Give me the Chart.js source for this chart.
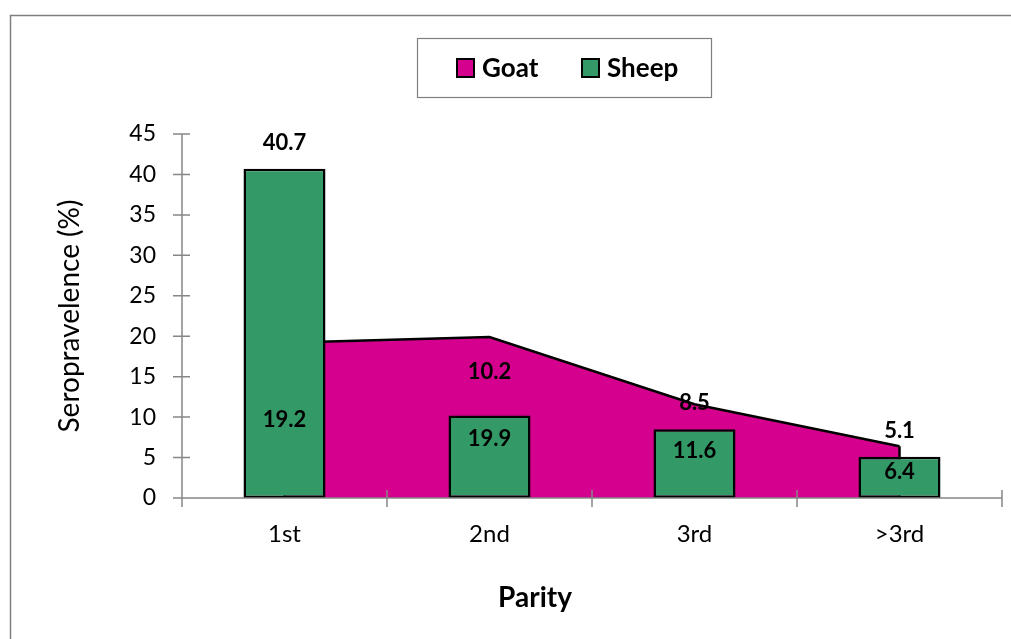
<!DOCTYPE html>
<html>
<head>
<meta charset="utf-8">
<script src="https://cdn.jsdelivr.net/npm/chart.js@4.4.1/dist/chart.umd.min.js"></script>
<style>
  html, body { margin: 0; padding: 0; background: #ffffff; }
  #wrap { width: 1011px; height: 639px; position: relative; }
</style>
</head>
<body>
<div id="wrap"><canvas id="chart" width="1011" height="639"></canvas></div>
<script>
// Seroprevalence by parity
const categories = ['1st', '2nd', '3rd', '>3rd'];
const goatValues = [19.2, 19.9, 11.6, 6.4];
const sheepValues = [40.7, 10.2, 8.5, 5.1];
const yTickValues = [0, 5, 10, 15, 20, 25, 30, 35, 40, 45];
const xAxisTitle = 'Parity';
const yAxisTitle = 'Seropravelence (%)';

const FONT = 'Lato, "Open Sans", "DejaVu Sans", sans-serif';
const GOAT_COLOR = '#D6008F';
const SHEEP_COLOR = '#339966';
const AXIS_COLOR = '#868686';

// Outer frame of the chart object
const framePlugin = {
  id: 'frame',
  beforeDraw(chart) {
    const ctx = chart.ctx;
    ctx.save();
    ctx.fillStyle = '#ffffff';
    ctx.fillRect(0, 0, chart.width, chart.height);
    ctx.strokeStyle = '#7f7f7f';
    ctx.lineWidth = 1.5;
    ctx.beginPath();
    ctx.moveTo(10.5, chart.height);
    ctx.lineTo(10.5, 15.5);
    ctx.lineTo(chart.width, 15.5);
    ctx.stroke();
    ctx.restore();
  }
};

// Close the area outline with vertical edges at its ends (drawn before the bars)
const areaEdgePlugin = {
  id: 'areaEdge',
  afterDatasetDraw(chart, args) {
    if (chart.data.datasets[args.index].type !== 'line') return;
    const pts = args.meta.data;
    const base = chart.scales.y.getPixelForValue(0);
    const ctx = chart.ctx;
    ctx.save();
    ctx.strokeStyle = '#000000';
    ctx.lineWidth = 2.5;
    ctx.beginPath();
    [pts[0], pts[pts.length - 1]].forEach(p => {
      ctx.moveTo(p.x, p.y);
      ctx.lineTo(p.x, base);
    });
    ctx.stroke();
    ctx.restore();
  }
};

// Axis lines with tick marks crossing the axes
const axesPlugin = {
  id: 'crossAxes',
  afterDatasetsDraw(chart) {
    const { ctx, chartArea: a, scales } = chart;
    const x = scales.x, y = scales.y;
    const y0 = y.getPixelForValue(0);
    ctx.save();
    ctx.strokeStyle = AXIS_COLOR;
    ctx.lineWidth = 1.5;
    ctx.beginPath();
    // value axis
    ctx.moveTo(a.left, a.top);
    ctx.lineTo(a.left, y0 + 9);
    y.ticks.forEach(t => {
      const py = y.getPixelForValue(t.value);
      ctx.moveTo(a.left - 9, py);
      ctx.lineTo(a.left + 8, py);
    });
    // category axis
    ctx.moveTo(a.left, y0);
    ctx.lineTo(a.right, y0);
    const n = categories.length;
    for (let i = 0; i <= n; i++) {
      let px;
      if (i === 0) px = a.left;
      else if (i === n) px = a.right;
      else px = (x.getPixelForValue(i - 1) + x.getPixelForValue(i)) / 2;
      ctx.moveTo(px, y0 - 8);
      ctx.lineTo(px, y0 + 9);
    }
    ctx.stroke();
    // category axis title, centred on the chart object
    ctx.fillStyle = '#000000';
    ctx.font = 'bold 28px ' + FONT;
    ctx.textAlign = 'center';
    ctx.textBaseline = 'middle';
    ctx.fillText(xAxisTitle, 535, 598);
    ctx.restore();
  }
};

// Value labels: sheep above the bars, goat at mid-height
const valueLabelPlugin = {
  id: 'valueLabels',
  afterDatasetsDraw(chart, args, opts) {
    const { ctx, scales } = chart;
    ctx.save();
    ctx.font = 'bold 22px ' + FONT;
    ctx.fillStyle = '#000000';
    ctx.textAlign = 'center';
    ctx.textBaseline = 'middle';
    chart.data.datasets.forEach((ds, di) => {
      const meta = chart.getDatasetMeta(di);
      meta.data.forEach((el, i) => {
        const v = ds.data[i];
        let py;
        if (ds.type === 'bar') {
          py = el.y - 26 + (opts.barNudge[i] || 0);
        } else {
          py = scales.y.getPixelForValue(v / 2) + (opts.areaNudge[i] || 0);
        }
        ctx.fillText(v.toFixed(1), el.x, py);
      });
    });
    ctx.restore();
  }
};

// Boxed legend
const boxLegendPlugin = {
  id: 'boxLegend',
  afterDraw(chart, args, opts) {
    const ctx = chart.ctx;
    ctx.save();
    ctx.strokeStyle = '#7f7f7f';
    ctx.lineWidth = 1.2;
    ctx.strokeRect(417.5, 38.5, 294, 59);
    ctx.font = 'bold 26px ' + FONT;
    ctx.textBaseline = 'alphabetic';
    ctx.textAlign = 'left';
    opts.items.forEach((it, k) => {
      const ds = chart.data.datasets[it];
      const sx = opts.swatchX[k];
      ctx.fillStyle = ds.backgroundColor;
      ctx.fillRect(sx, 59, 17, 18);
      ctx.strokeStyle = '#000000';
      ctx.lineWidth = 2;
      ctx.strokeRect(sx, 59, 17, 18);
      ctx.fillStyle = '#000000';
      ctx.fillText(ds.label, sx + 25, 77);
    });
    ctx.restore();
  }
};

new Chart(document.getElementById('chart'), {
  type: 'bar',
  data: {
    labels: categories,
    datasets: [
      {
        type: 'line',
        label: 'Goat',
        data: goatValues,
        backgroundColor: GOAT_COLOR,
        borderColor: '#000000',
        borderWidth: 2.5,
        fill: 'origin',
        tension: 0,
        pointRadius: 0,
        order: 2
      },
      {
        type: 'bar',
        label: 'Sheep',
        data: sheepValues,
        backgroundColor: SHEEP_COLOR,
        borderColor: '#000000',
        borderWidth: 2.5,
        borderSkipped: false,
        barPercentage: 0.4,
        categoryPercentage: 1.0,
        order: 1
      }
    ]
  },
  options: {
    responsive: false,
    animation: false,
    events: [],
    layout: { padding: { top: 134, right: 9, left: 0, bottom: 0 } },
    plugins: {
      legend: { display: false },
      tooltip: { enabled: false },
      valueLabels: { barNudge: [0, -18, 0, 0], areaNudge: [0, 21, 0, 0] },
      boxLegend: { items: [0, 1], swatchX: [457, 582] }
    },
    scales: {
      x: {
        type: 'category',
        offset: true,
        grid: { display: false, drawTicks: false },
        border: { display: false },
        ticks: { color: '#000000', font: { family: FONT, size: 24 }, padding: 22 },
        afterFit(scale) { scale.height = 141; }
      },
      y: {
        min: 0,
        max: 45,
        afterBuildTicks(scale) { scale.ticks = yTickValues.map(v => ({ value: v })); },
        grid: { display: false, drawTicks: false },
        border: { display: false },
        ticks: { color: '#000000', font: { family: FONT, size: 23 }, padding: 26 },
        title: {
          display: true,
          text: yAxisTitle,
          color: '#000000',
          font: { family: FONT, size: 28 },
          padding: { top: 53, bottom: 0 }
        },
        afterFit(scale) { scale.width = 182; }
      }
    }
  },
  plugins: [framePlugin, areaEdgePlugin, axesPlugin, valueLabelPlugin, boxLegendPlugin]
});
</script>
</body>
</html>
